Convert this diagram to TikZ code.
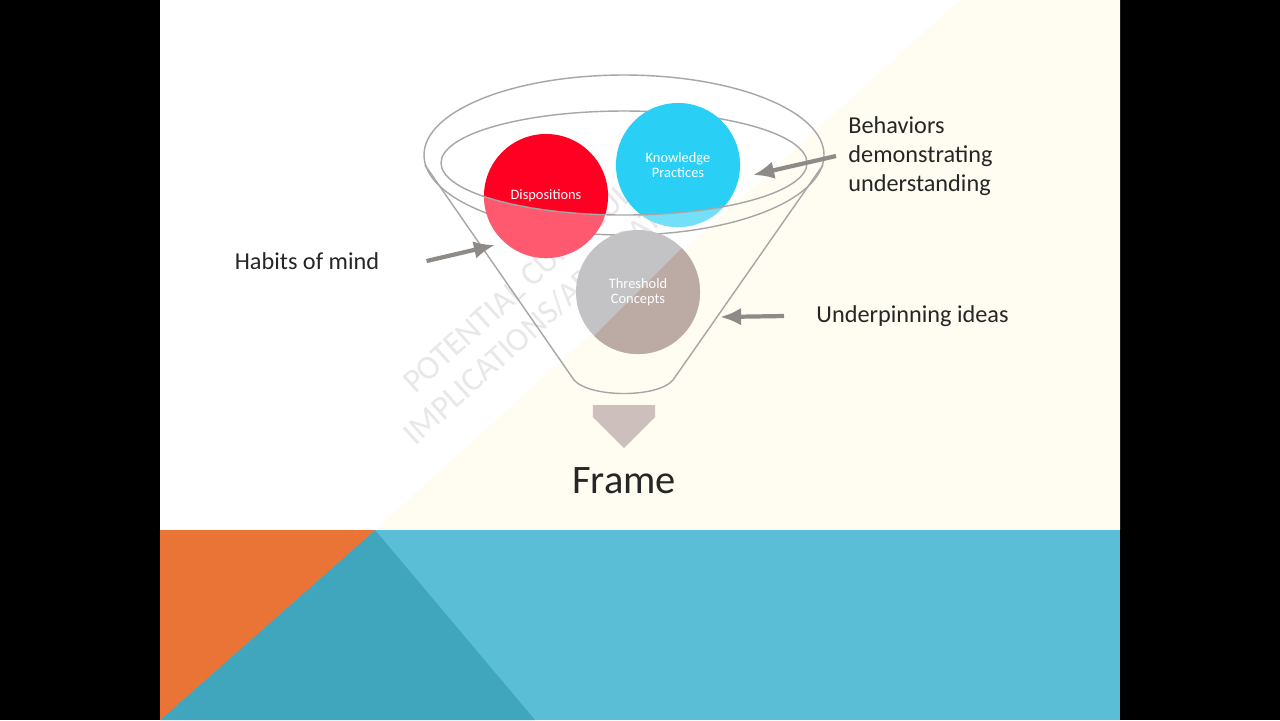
\documentclass[tikz,border=0pt]{standalone}
\usepackage{fontspec}
\setmainfont{Carlito}
\usetikzlibrary{arrows.meta,shapes.arrows,positioning}
\definecolor{slideteal}{HTML}{5ABFD6}
\definecolor{darkteal}{HTML}{3FA6BD}
\definecolor{slideorange}{HTML}{E97435}
\definecolor{cream}{HTML}{FFFCF2}
\definecolor{disred}{HTML}{FF0022}
\definecolor{kpcyan}{HTML}{2ACFF5}
\definecolor{tcgray}{HTML}{C3C3C5}
\definecolor{tcbrown}{HTML}{BCAAA4}
\definecolor{pointer}{HTML}{8E8A88}
\begin{document}
\begin{tikzpicture}[x=0.01cm,y=-0.01cm,
  bubble/.style={circle,minimum size=1.24cm,inner sep=0pt,text=white,align=center,font=\fontsize{4.1}{4.4}\selectfont},
  side label/.style={font=\fontsize{6.9}{8.2}\selectfont,align=left,text=black!85},
  pointer arrow/.style={-{Latex[length=6pt,width=5pt]},line width=1.2pt,draw=pointer},
  funnel line/.style={draw=gray!70,line width=0.4pt}]
\useasboundingbox (0,0) rectangle (1280,720);
\fill[black] (0,0) rectangle (1280,720);
\fill[white] (160,0) rectangle (1120,530);
\fill[cream] (960,0) -- (1120,0) -- (1120,530) -- (375,530) -- cycle;
\fill[slideteal] (160,530) rectangle (1120,720);
\fill[darkteal] (160,720) -- (375,530) -- (535,720) -- cycle;
\fill[slideorange] (160,530) -- (375,530) -- (160,720) -- cycle;

% watermark
\node[rotate=42,text=gray!18,align=center,font=\fontsize{9.5}{11}\selectfont] (mark) at (545,290) {POTENTIAL CURRICULAR\\IMPLICATIONS/APPLICATIONS};

% funnel
\draw[funnel line] (624,155) ellipse [x radius=200,y radius=80];
\draw[funnel line] (441,163) arc[start angle=180,end angle=360,x radius=183,y radius=52];
\draw[funnel line] (425,165) -- (574,380) .. controls (590,398) and (658,398) .. (673,380) -- (823,165);

% circles
\node[bubble,fill=disred] (disp) at (546,196) {};
\node[bubble,fill=kpcyan] (know) at (678,165) {};
\begin{scope}
  \clip (638,292) circle (62);
  \fill[tcgray] (560,214) rectangle (716,370);
  \fill[tcbrown] (716,214) -- (716,370) -- (560,370) -- cycle;
\end{scope}
\node[bubble] (thres) at (638,292) {};
% lighter front of the funnel
\foreach \c in {disp,know}{
  \begin{scope}
    \clip (\c) circle (62);
    \fill[white,opacity=0.35] (441,163) arc[start angle=180,end angle=0,x radius=183,y radius=52] -- (807,300) -- (441,300) -- cycle;
  \end{scope}
}
\draw[funnel line] (441,163) arc[start angle=180,end angle=0,x radius=183,y radius=52];
\node[text=white,font=\fontsize{4.1}{4.4}\selectfont] at (disp) {Dispositions};
\node[text=white,align=center,font=\fontsize{4.1}{4.4}\selectfont] at (know) {Knowledge\\Practices};
\node[text=white,align=center,font=\fontsize{4.1}{4.4}\selectfont] at (thres) {Threshold\\Concepts};

% output
\node[single arrow,shape border rotate=270,fill=tcbrown!75,minimum height=0.43cm,minimum width=0.62cm,single arrow head extend=0pt,inner sep=0pt] (down) at (624,411) {};
\node[font=\fontsize{11.5}{13}\selectfont,text=black!85] (frame) at (624,481) {Frame};

% labels
\node[side label] (habits) at (307,261) {Habits of mind};
\coordinate (habitsTip) at (495,245);
\draw[pointer arrow] (habits.east)++(35,0) -- (habitsTip);
\node[side label,anchor=west] (behav) at (836,156) {Behaviors\\demonstrating\\understanding};
\coordinate (behavTip) at (753,175);
\draw[pointer arrow] (behav.west) -- (behavTip);
\node[side label,anchor=west] (under) at (804,316) {Underpinning ideas};
\coordinate (underTip) at (720,317);
\draw[pointer arrow] ([xshift=-0.2cm]under.west) -- (underTip);
\end{tikzpicture}
\end{document}
